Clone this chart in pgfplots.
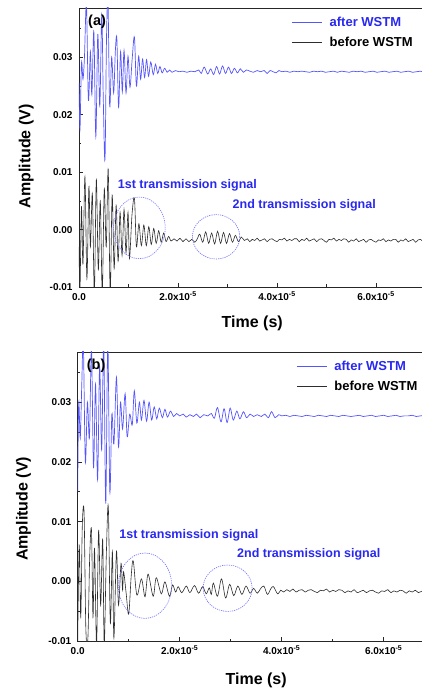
\documentclass[border=0pt]{standalone}
\usepackage{pgfplots}
\pgfplotsset{compat=1.18}
\usepackage{fontspec}
\setmainfont{Liberation Sans}
\definecolor{sigblue}{RGB}{85,85,255}
\definecolor{txtblue}{RGB}{40,40,240}
\definecolor{circblue}{RGB}{110,110,255}
\definecolor{sigblack}{RGB}{45,45,45}

\tikzset{
  circ/.style={circblue, line width=0.6pt, dash pattern=on 1.2pt off 1pt},
  annot/.style={text=txtblue, font=\bfseries\fontsize{12.5}{15}\selectfont},
  biglabel/.style={font=\bfseries\fontsize{16}{19}\selectfont},
}
\pgfplotsset{
  panel/.style={
    scale only axis,
    xmin=0, xmax=7, ymin=-0.01,
    xtick={0,2,4,6},
    xticklabels={0.0,2.0x10\textsuperscript{-5},4.0x10\textsuperscript{-5},6.0x10\textsuperscript{-5}},
    minor xtick={1,3,5},
    ytick={-0.01,0,0.01,0.02,0.03},
    yticklabels={-0.01,0.00,0.01,0.02,0.03},
    minor ytick={-0.005,0.005,0.015,0.025,0.035},
    scaled ticks=false,
    tick pos=left,
    tick align=inside,
    major tick length=4pt, minor tick length=2.5pt,
    axis line style={line width=0.8pt, black!85},
    every tick/.style={black!85, line width=0.7pt},
    tick label style={font=\bfseries\fontsize{10}{12}\selectfont},
    xticklabel style={text height=8pt, text depth=1pt, yshift=-2pt},
    yticklabel style={xshift=-3pt},
    ylabel={Amplitude (V)},
    xlabel={Time (s)},
    legend cell align=left,
    legend image code/.code={\draw[##1] (0pt,0pt) -- (30pt,0pt);},
    legend style={draw=none, fill=none, inner sep=0pt,
      font=\bfseries\fontsize{13}{15}\selectfont, row sep=5pt,
      /tikz/every odd column/.append style={column sep=5pt}},
  },
  blueline/.style={sigblue, line width=0.7pt, smooth, tension=0.55},
  blackline/.style={sigblack, line width=0.6pt, smooth, tension=0.55},
}

\begin{document}
\begin{tikzpicture}
\useasboundingbox (0,0) rectangle (422pt,691pt);
\clip (0,0) rectangle (422pt,691pt);

% ---------------- panel (a) ----------------
\begin{axis}[panel, name=A,
  at={(79pt,404pt)}, anchor=south west,
  width=346.5pt, height=279pt, ymax=0.0386,
  every axis y label/.style={at={(axis description cs:-0.152,0.468)}, rotate=90, anchor=center, biglabel},
  every axis x label/.style={at={(axis description cs:0.5,0)}, anchor=center, yshift=-36pt, biglabel},
  legend style={at={(axis description cs:0.614,0.975)}, anchor=north west},
]
\addplot[blueline] table {
0.00 0.0255
0.02 0.0175
0.05 0.0290
0.08 0.0262
0.11 0.0300
0.15 0.0392
0.19 0.0225
0.23 0.0310
0.26 0.0235
0.30 0.0345
0.34 0.0162
0.38 0.0340
0.42 0.0215
0.46 0.0375
0.49 0.0230
0.525 0.0122
0.555 0.0330
0.585 0.0400
0.62 0.0215
0.66 0.0300
0.70 0.0238
0.735 0.0312
0.765 0.0332
0.80 0.0213
0.84 0.0310
0.875 0.0240
0.91 0.0312
0.95 0.0238
0.99 0.0302
1.03 0.0248
1.075 0.0298
1.12 0.0335
1.16 0.0250
1.205 0.0302
1.245 0.0262
1.285 0.0297
1.325 0.0265
1.365 0.0296
1.405 0.0267
1.45 0.0292
1.50 0.0270
1.545 0.0288
1.59 0.0272
1.635 0.0284
1.68 0.0273
1.73 0.0281
1.78 0.0274
1.83 0.0278
1.88 0.0274
1.95 0.0277
2.02 0.0275
2.10 0.0276
2.18 0.0274
2.26 0.0276
2.34 0.0275
2.42 0.0278
2.47 0.0272
2.53 0.0283
2.60 0.0271
2.66 0.0280
2.72 0.0270
2.78 0.0284
2.84 0.0271
2.90 0.0285
2.96 0.0272
3.02 0.0283
3.08 0.0272
3.14 0.0281
3.20 0.0273
3.26 0.0280
3.32 0.0274
3.38 0.0278
3.45 0.0276
3.52 0.0274
3.60 0.0277
3.67 0.0275
3.74 0.0277
3.80 0.0272
3.86 0.0277
3.92 0.0275
3.98 0.0273
4.04 0.0277
4.10 0.0275
4.18 0.0276
4.26 0.0274
4.34 0.0276
4.42 0.0275
4.50 0.0276
4.58 0.0275
4.66 0.0274
4.74 0.0276
4.82 0.0275
4.90 0.0276
4.98 0.0274
5.06 0.0275
5.14 0.0276
5.22 0.0274
5.30 0.0276
5.38 0.0275
5.46 0.0274
5.54 0.0276
5.62 0.0275
5.70 0.0276
5.78 0.0274
5.86 0.0275
5.94 0.0276
6.02 0.0274
6.10 0.0275
6.18 0.0276
6.26 0.0274
6.34 0.0275
6.42 0.0276
6.50 0.0274
6.58 0.0275
6.66 0.0276
6.74 0.0274
6.82 0.0275
6.90 0.0276
6.98 0.0274
7.05 0.0275
};
\addlegendentry{\textcolor{txtblue}{after WSTM}}
\addplot[blackline] table {
0.00 -0.0030
0.02 -0.0105
0.05 0.0040
0.08 -0.0060
0.12 0.0092
0.16 -0.0085
0.20 0.0075
0.23 -0.0030
0.27 0.0062
0.31 -0.0110
0.35 0.0087
0.39 -0.0070
0.43 0.0050
0.47 -0.0110
0.51 0.0070
0.55 -0.0030
0.59 0.0105
0.63 -0.0110
0.67 0.0060
0.71 -0.0068
0.75 0.0042
0.79 -0.0055
0.83 0.0030
0.87 -0.0045
0.91 0.0035
0.95 -0.0040
0.99 0.0030
1.02 -0.0050
1.07 0.0025
1.12 0.0054
1.16 -0.0030
1.21 0.0010
1.26 -0.0028
1.31 0.0008
1.36 -0.0028
1.41 0.0005
1.46 -0.0026
1.51 0.0002
1.56 -0.0024
1.61 -0.0002
1.66 -0.0022
1.71 -0.0006
1.76 -0.0021
1.81 -0.0012
1.86 -0.0020
1.92 -0.0016
1.98 -0.0020
2.04 -0.0015
2.10 -0.0021
2.16 -0.0016
2.22 -0.0021
2.28 -0.0017
2.34 -0.0022
2.39 -0.0016
2.44 -0.0008
2.50 -0.0022
2.56 -0.0004
2.62 -0.0024
2.68 -0.0006
2.74 -0.0025
2.80 -0.0003
2.86 -0.0024
2.92 -0.0005
2.98 -0.0024
3.04 -0.0007
3.10 -0.0022
3.16 -0.0010
3.22 -0.0021
3.28 -0.0013
3.34 -0.0019
3.40 -0.0016
3.45 -0.0021
3.50 -0.0017
3.55 -0.0019
3.60 -0.0015
3.65 -0.0020
3.70 -0.0018
3.75 -0.0016
3.80 -0.0021
3.85 -0.0017
3.90 -0.0016
3.95 -0.0019
4.00 -0.0021
4.05 -0.0017
4.10 -0.0018
4.15 -0.0015
4.20 -0.0020
4.25 -0.0017
4.30 -0.0019
4.35 -0.0016
4.40 -0.0016
4.45 -0.0021
4.50 -0.0017
4.55 -0.0019
4.60 -0.0015
4.65 -0.0020
4.70 -0.0018
4.75 -0.0016
4.80 -0.0021
4.85 -0.0017
4.90 -0.0016
4.95 -0.0019
5.00 -0.0022
5.05 -0.0017
5.10 -0.0018
5.15 -0.0015
5.20 -0.0020
5.25 -0.0017
5.30 -0.0019
5.35 -0.0016
5.40 -0.0017
5.45 -0.0022
5.50 -0.0018
5.55 -0.0020
5.60 -0.0016
5.65 -0.0021
5.70 -0.0019
5.75 -0.0017
5.80 -0.0022
5.85 -0.0018
5.90 -0.0017
5.95 -0.0020
6.00 -0.0022
6.05 -0.0018
6.10 -0.0019
6.15 -0.0016
6.20 -0.0021
6.25 -0.0018
6.30 -0.0020
6.35 -0.0017
6.40 -0.0017
6.45 -0.0022
6.50 -0.0018
6.55 -0.0020
6.60 -0.0016
6.65 -0.0021
6.70 -0.0019
6.75 -0.0017
6.80 -0.0022
6.85 -0.0018
6.90 -0.0017
6.95 -0.0021
7.00 -0.0019
7.05 -0.0020
};
\addlegendentry{before WSTM}
\draw[circ] (axis cs:1.22,0.0003) ellipse [x radius=25.8pt, y radius=30.8pt];
\draw[circ] (axis cs:2.77,-0.00126) ellipse [x radius=23.7pt, y radius=22.2pt];
\node[annot] at (axis cs:2.19,0.0077) {1st transmission signal};
\node[annot] at (axis cs:4.55,0.0043) {2nd transmission signal};
\end{axis}
\node[anchor=west, inner sep=0pt, font=\bfseries\fontsize{14.5}{17}\selectfont] at ([xshift=9pt,yshift=-13.7pt]A.north west) {(a)};

% ---------------- panel (b) ----------------
\begin{axis}[panel, name=B,
  at={(77.7pt,50pt)}, anchor=south west,
  width=357pt, height=289pt, ymax=0.0384,
  every axis y label/.style={at={(axis description cs:-0.152,0.457)}, rotate=90, anchor=center, biglabel},
  every axis x label/.style={at={(axis description cs:0.5,0)}, anchor=center, yshift=-39pt, biglabel},
  legend style={at={(axis description cs:0.613,0.977)}, anchor=north west},
]
\addplot[blueline] table {
0.00 0.0150
0.02 0.0300
0.05 0.0240
0.08 0.0330
0.11 0.0400
0.15 0.0200
0.19 0.0300
0.23 0.0240
0.27 0.0390
0.31 0.0190
0.35 0.0330
0.39 0.0170
0.43 0.0360
0.47 0.0220
0.51 0.0400
0.55 0.0130
0.59 0.0400
0.63 0.0150
0.67 0.0280
0.71 0.0230
0.76 0.0342
0.80 0.0225
0.84 0.0300
0.88 0.0255
0.93 0.0314
0.97 0.0242
1.02 0.0280
1.07 0.0262
1.11 0.0319
1.16 0.0265
1.21 0.0300
1.25 0.0270
1.30 0.0303
1.35 0.0268
1.40 0.0300
1.45 0.0270
1.50 0.0292
1.55 0.0272
1.60 0.0290
1.66 0.0274
1.71 0.0288
1.76 0.0275
1.82 0.0285
1.88 0.0276
1.94 0.0281
2.00 0.0277
2.07 0.0280
2.13 0.0275
2.20 0.0279
2.27 0.0276
2.33 0.0280
2.40 0.0274
2.47 0.0279
2.55 0.0277
2.62 0.0281
2.68 0.0273
2.74 0.0291
2.81 0.0267
2.87 0.0289
2.93 0.0266
2.99 0.0290
3.05 0.0270
3.12 0.0285
3.18 0.0272
3.25 0.0284
3.31 0.0274
3.38 0.0280
3.45 0.0276
3.52 0.0279
3.60 0.0276
3.67 0.0280
3.74 0.0274
3.80 0.0284
3.87 0.0274
3.94 0.0279
4.00 0.0277
4.08 0.0278
4.16 0.0276
4.24 0.0278
4.32 0.0277
4.40 0.0276
4.48 0.0278
4.56 0.0277
4.64 0.0276
4.72 0.0278
4.80 0.0277
4.88 0.0276
4.96 0.0278
5.04 0.0277
5.12 0.0276
5.20 0.0278
5.28 0.0277
5.36 0.0276
5.44 0.0277
5.52 0.0278
5.60 0.0276
5.68 0.0277
5.76 0.0278
5.84 0.0276
5.92 0.0277
6.00 0.0278
6.08 0.0276
6.16 0.0277
6.24 0.0278
6.32 0.0276
6.40 0.0277
6.48 0.0277
6.56 0.0278
6.64 0.0276
6.72 0.0277
6.80 0.0278
6.88 0.0276
6.96 0.0277
7.04 0.0277
};
\addlegendentry{\textcolor{txtblue}{after WSTM}}
\addplot[blackline] table {
0.00 -0.0100
0.03 0.0060
0.06 -0.0060
0.09 0.0092
0.125 0.0115
0.16 -0.0080
0.20 -0.0095
0.235 0.0040
0.27 0.0086
0.30 -0.0060
0.33 0.0055
0.37 -0.0105
0.41 0.0085
0.45 -0.0040
0.49 0.0070
0.52 -0.0105
0.56 0.0040
0.60 0.0125
0.64 -0.0070
0.68 0.0050
0.71 -0.0095
0.76 0.0050
0.80 -0.0040
0.85 0.0030
0.88 -0.0015
0.90 0.0016
0.95 -0.0020
1.00 -0.0055
1.05 0.0010
1.09 0.0034
1.16 -0.0023
1.25 0.0004
1.32 -0.0026
1.38 0.0012
1.48 -0.0025
1.54 0.0006
1.64 -0.0021
1.71 -0.0001
1.80 -0.0025
1.86 -0.0006
1.92 -0.0018
1.97 -0.0009
2.04 -0.0019
2.13 -0.0008
2.20 -0.0019
2.29 -0.0007
2.37 -0.0020
2.45 -0.0009
2.52 -0.0021
2.58 -0.0011
2.62 -0.0022
2.66 -0.0003
2.74 -0.0025
2.82 0.0004
2.90 -0.0028
2.98 -0.0005
3.06 -0.0024
3.14 -0.0008
3.22 -0.0022
3.30 -0.0008
3.38 -0.0020
3.45 -0.0012
3.52 -0.0020
3.58 -0.0013
3.65 -0.0008
3.72 -0.0022
3.79 -0.0012
3.84 -0.0009
3.92 -0.0021
3.98 -0.0015
4.04 -0.0018
4.10 -0.0014
4.16 -0.0017
4.22 -0.0013
4.28 -0.0018
4.34 -0.0015
4.40 -0.0014
4.46 -0.0018
4.52 -0.0015
4.58 -0.0014
4.64 -0.0017
4.70 -0.0019
4.76 -0.0015
4.82 -0.0016
4.88 -0.0013
4.94 -0.0018
5.00 -0.0015
5.06 -0.0017
5.12 -0.0014
5.18 -0.0015
5.24 -0.0019
5.30 -0.0016
5.36 -0.0018
5.42 -0.0014
5.48 -0.0019
5.54 -0.0017
5.60 -0.0015
5.66 -0.0019
5.72 -0.0016
5.78 -0.0015
5.84 -0.0018
5.90 -0.0020
5.96 -0.0016
6.02 -0.0017
6.08 -0.0014
6.14 -0.0019
6.20 -0.0016
6.26 -0.0018
6.32 -0.0015
6.38 -0.0016
6.44 -0.0020
6.50 -0.0016
6.56 -0.0018
6.62 -0.0015
6.68 -0.0019
6.74 -0.0017
6.80 -0.0015
6.86 -0.0019
6.92 -0.0017
6.98 -0.0016
7.04 -0.0018
};
\addlegendentry{before WSTM}
\draw[circ] (axis cs:1.32,-0.00074) ellipse [x radius=26.7pt, y radius=32.7pt];
\draw[circ] (axis cs:2.94,-0.00116) ellipse [x radius=24.5pt, y radius=23.2pt];
\node[annot] at (axis cs:2.18,0.00776) {1st transmission signal};
\node[annot] at (axis cs:4.53,0.00446) {2nd transmission signal};
\end{axis}
\node[anchor=west, inner sep=0pt, font=\bfseries\fontsize{14.5}{17}\selectfont] at ([xshift=9pt,yshift=-13.8pt]B.north west) {(b)};
\end{tikzpicture}
\end{document}
